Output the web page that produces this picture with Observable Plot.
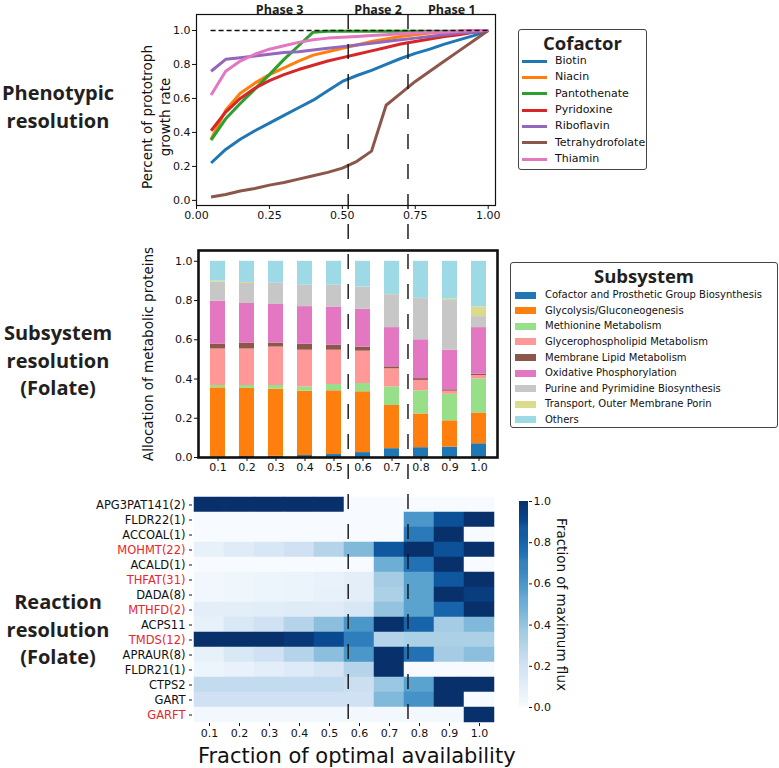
<!DOCTYPE html>
<html>
<head>
<meta charset="utf-8">
<script src="https://cdn.jsdelivr.net/npm/d3@7"></script>
<script src="https://cdn.jsdelivr.net/npm/@observablehq/plot@0.6"></script>
<style>
  body { margin: 0; background: #fff; }
  #fig { position: relative; width: 779px; height: 768px; overflow: hidden; font-family: "DejaVu Sans", sans-serif; color: #111; }
  .rowtitle { position: absolute; left: 0; width: 116px; text-align: center; font-family: "Open Sans", sans-serif; font-weight: 700; font-size: 20px; line-height: 27.5px; color: #231f20; }
  .legend { position: absolute; border: 1px solid #444; border-radius: 3px; box-sizing: border-box; background: #fff; }
  .legend .ttl { position: absolute; left: 0; right: 0; top: 0; text-align: center; font-family: "Open Sans", sans-serif; font-weight: 700; font-size: 18.5px; line-height: 26px; color: #231f20; }
  .legend .item { position: absolute; white-space: nowrap; font-family: "DejaVu Sans", sans-serif; color: #111; }
  .legend .sw { position: absolute; }
</style>
</head>
<body>
<div id="fig"></div>
<script>
// ---------- data: phenotypic resolution ----------
const availability = [0.05, 0.10, 0.15, 0.20, 0.25, 0.30, 0.35, 0.40, 0.45, 0.50,
                      0.55, 0.60, 0.65, 0.70, 0.75, 0.80, 0.85, 0.90, 0.95, 1.00];
const cofactors = ["Biotin", "Niacin", "Pantothenate", "Pyridoxine", "Riboflavin", "Tetrahydrofolate", "Thiamin"];
const cofactorColors = ["#1f77b4", "#ff7f0e", "#2ca02c", "#d62728", "#9467bd", "#8c564b", "#e377c2"];
const biotin = [0.22, 0.30, 0.36, 0.41, 0.455, 0.50, 0.545, 0.59, 0.645, 0.70, 0.735, 0.765, 0.80, 0.835, 0.865, 0.89, 0.92, 0.945, 0.97, 1.0];
const niacin = [0.36, 0.53, 0.63, 0.69, 0.74, 0.78, 0.82, 0.855, 0.875, 0.895, 0.915, 0.935, 0.95, 0.965, 0.975, 0.985, 0.99, 0.995, 1.0, 1.0];
const pantothenate = [0.355, 0.48, 0.57, 0.655, 0.74, 0.83, 0.91, 0.99, 0.995, 0.995, 0.995, 0.995, 0.995, 0.995, 0.995, 0.995, 0.995, 0.995, 0.995, 1.0];
const pyridoxine = [0.41, 0.52, 0.60, 0.66, 0.705, 0.74, 0.77, 0.795, 0.82, 0.84, 0.86, 0.88, 0.90, 0.92, 0.935, 0.95, 0.965, 0.975, 0.99, 1.0];
const riboflavin = [0.76, 0.83, 0.84, 0.85, 0.86, 0.87, 0.875, 0.885, 0.895, 0.905, 0.915, 0.925, 0.935, 0.945, 0.955, 0.965, 0.975, 0.985, 0.99, 1.0];
const tetrahydrofolate = [0.02, 0.035, 0.055, 0.07, 0.09, 0.105, 0.125, 0.145, 0.165, 0.19, 0.23, 0.29, 0.56, 0.63, 0.70, 0.76, 0.82, 0.88, 0.94, 1.0];
const thiamin = [0.62, 0.76, 0.82, 0.86, 0.89, 0.91, 0.93, 0.945, 0.955, 0.96, 0.965, 0.97, 0.975, 0.98, 0.985, 0.99, 0.99, 0.995, 1.0, 1.0];
const growthSeries = [biotin, niacin, pantothenate, pyridoxine, riboflavin, tetrahydrofolate, thiamin];
const growthTicksX = [0, 0.25, 0.5, 0.75, 1.0];
const fractionTicks = [0, 0.2, 0.4, 0.6, 0.8, 1.0];
const phaseNames = ["Phase 3", "Phase 2", "Phase 1"];
const phaseBounds = [0.52, 0.725];
const growthXDomain = [0, 1.025];

// ---------- data: subsystem resolution ----------
const barAvail = ["0.1", "0.2", "0.3", "0.4", "0.5", "0.6", "0.7", "0.8", "0.9", "1.0"];
const subsystems = ["Cofactor and Prosthetic Group Biosynthesis", "Glycolysis/Gluconeogenesis", "Methionine Metabolism",
  "Glycerophospholipid Metabolism", "Membrane Lipid Metabolism", "Oxidative Phosphorylation",
  "Purine and Pyrimidine Biosynthesis", "Transport, Outer Membrane Porin", "Others"];
const subsystemColors = ["#1f77b4", "#ff7f0e", "#98df8a", "#ff9896", "#8c564b", "#e377c2", "#c7c7c7", "#dbdb8d", "#9edae5"];
const cofactorProsthetic = [0.002, 0.005, 0.006, 0.010, 0.015, 0.025, 0.045, 0.050, 0.053, 0.070];
const glycolysis        = [0.353, 0.347, 0.342, 0.328, 0.325, 0.310, 0.220, 0.172, 0.134, 0.157];
const methionine        = [0.012, 0.015, 0.019, 0.022, 0.032, 0.042, 0.095, 0.118, 0.135, 0.173];
const glycerophospholipid = [0.186, 0.186, 0.196, 0.187, 0.175, 0.165, 0.092, 0.053, 0.016, 0.018];
const membraneLipid     = [0.024, 0.029, 0.020, 0.030, 0.025, 0.020, 0.010, 0.009, 0.007, 0.007];
const oxidative         = [0.220, 0.203, 0.197, 0.192, 0.195, 0.194, 0.200, 0.198, 0.201, 0.237];
const purine            = [0.096, 0.102, 0.107, 0.108, 0.110, 0.112, 0.168, 0.210, 0.254, 0.056];
const transport         = [0.006, 0.005, 0.001, 0.001, 0.001, 0.001, 0.001, 0.001, 0.007, 0.050];
const others            = [0.101, 0.108, 0.112, 0.122, 0.122, 0.131, 0.169, 0.189, 0.193, 0.232];
const subsystemSeries = [cofactorProsthetic, glycolysis, methionine, glycerophospholipid, membraneLipid, oxidative, purine, transport, others];

// ---------- data: reaction resolution ----------
const reactions = ["APG3PAT141(2)", "FLDR22(1)", "ACCOAL(1)", "MOHMT(22)", "ACALD(1)", "THFAT(31)", "DADA(8)",
  "MTHFD(2)", "ACPS11", "TMDS(12)", "APRAUR(8)", "FLDR21(1)", "CTPS2", "GART", "GARFT"];
const highlightedReactions = ["MOHMT(22)", "THFAT(31)", "MTHFD(2)", "TMDS(12)", "GARFT"];
const fluxAPG3PAT141 = [1, 1, 1, 1, 1, 0, 0, 0, 0, 0];
const fluxFLDR22  = [0, 0, 0, 0, 0, 0, 0, 0.6, 0.88, 1];
const fluxACCOAL  = [0, 0, 0, 0, 0, 0, 0, 0.72, 1, 0];
const fluxMOHMT   = [0.08, 0.12, 0.16, 0.2, 0.3, 0.45, 0.85, 1, 0.87, 1];
const fluxACALD   = [0, 0, 0, 0, 0, 0, 0.5, 0.75, 1, 0];
const fluxTHFAT   = [0.03, 0.04, 0.05, 0.06, 0.07, 0.1, 0.35, 0.55, 0.85, 1];
const fluxDADA    = [0.03, 0.04, 0.05, 0.06, 0.08, 0.1, 0.33, 0.55, 1, 0.95];
const fluxMTHFD   = [0.1, 0.1, 0.11, 0.12, 0.12, 0.16, 0.4, 0.55, 0.8, 1];
const fluxACPS11  = [0.08, 0.15, 0.2, 0.3, 0.42, 0.6, 1, 0.8, 0.35, 0.45];
const fluxTMDS    = [1, 1, 1, 0.97, 0.9, 0.7, 0.3, 0.33, 0.33, 0.33];
const fluxAPRAUR  = [0.08, 0.15, 0.2, 0.3, 0.42, 0.6, 1, 0.75, 0.35, 0.42];
const fluxFLDR21  = [0.05, 0.07, 0.1, 0.13, 0.17, 0.3, 1, 0, 0, 0];
const fluxCTPS2   = [0.25, 0.25, 0.25, 0.25, 0.25, 0.22, 0.38, 0.55, 1, 1];
const fluxGART    = [0.2, 0.2, 0.2, 0.2, 0.2, 0.2, 0.45, 0.62, 1, 0];
const fluxGARFT   = [0.02, 0.02, 0.02, 0.02, 0.02, 0.02, 0.02, 0.02, 0.02, 1];
const fluxRows = [fluxAPG3PAT141, fluxFLDR22, fluxACCOAL, fluxMOHMT, fluxACALD, fluxTHFAT, fluxDADA, fluxMTHFD,
  fluxACPS11, fluxTMDS, fluxAPRAUR, fluxFLDR21, fluxCTPS2, fluxGART, fluxGARFT];

// ---------- build tables ----------
const lineData = cofactors.flatMap((c, k) => availability.map((x, i) => ({cofactor: c, x, y: growthSeries[k][i]})));
const barData = barAvail.flatMap((a, i) => subsystems.map((s, k) => ({avail: a, subsystem: s, value: subsystemSeries[k][i]})));
const heatData = reactions.flatMap((r, k) => barAvail.map((a, i) => ({reaction: r, avail: a, value: fluxRows[k][i]})));
const phaseEdges = [availability[0], ...phaseBounds, growthXDomain[1]];
const phaseMid = phaseNames.map((_, i) => (phaseEdges[i] + phaseEdges[i + 1]) / 2);
const fmt1 = d3.format(".1f");
const baseStyle = {background: "transparent", overflow: "visible", fontFamily: "DejaVu Sans, sans-serif", fontSize: "11px", color: "#111"};

const fig = document.getElementById("fig");
function place(el, left, top) {
  el.style.position = "absolute";
  el.style.left = left + "px";
  el.style.top = top + "px";
  fig.appendChild(el);
  return el;
}

// ---------- row titles ----------
[["Phenotypic", "resolution"], ["Subsystem", "resolution", "(Folate)"], ["Reaction", "resolution", "(Folate)"]]
  .forEach((lines, i) => {
    const d = document.createElement("div");
    d.className = "rowtitle";
    d.innerHTML = lines.join("<br>");
    place(d, 0, [79, 319, 588][i]);
  });

const vLabel = {textAnchor: "middle", lineAnchor: "middle", fill: "#111"};

// ---------- panel 1: growth lines ----------
const topPlot = Plot.plot({
  width: 500, height: 240,
  marginLeft: 196, marginRight: 5, marginTop: 14, marginBottom: 35,
  style: baseStyle,
  x: {domain: growthXDomain, ticks: growthTicksX, tickFormat: d3.format(".2f"), tickSize: 4, tickPadding: 2, label: null},
  y: {domain: [-0.03, 1.094], ticks: fractionTicks, tickFormat: fmt1, tickSize: 4, tickPadding: 2, label: null},
  color: {domain: cofactors, range: cofactorColors},
  marks: [
    Plot.line(lineData, {x: "x", y: "y", z: "cofactor", stroke: "cofactor", strokeWidth: 3, strokeLinecap: "butt"}),
    Plot.ruleY([1], {x1: availability[0], x2: availability[availability.length - 1], stroke: "#111", strokeWidth: 1.4, strokeDasharray: "5,3"}),
    Plot.frame({stroke: "#111", strokeWidth: 1.2}),
    Plot.text(phaseNames, {x: (d, i) => phaseMid[i], text: d => d, frameAnchor: "top", dy: -5, lineAnchor: "middle",
      fontFamily: "Open Sans, sans-serif", fontWeight: 700, fontSize: 12.5, fill: "#231f20"}),
    Plot.text(["Percent of prototroph"], {...vLabel, text: d => d, frameAnchor: "left", rotate: -90, dx: -49, dy: 7, fontSize: 13.5}),
    Plot.text(["growth rate"], {...vLabel, text: d => d, frameAnchor: "left", rotate: -90, dx: -31, dy: 7, fontSize: 13.5})
  ]
});
place(topPlot, 0, 0);

// ---------- panel 2: stacked bars ----------
const midPlot = Plot.plot({
  width: 779, height: 240,
  marginLeft: 198, marginRight: 282, marginTop: 10, marginBottom: 23,
  style: baseStyle,
  x: {domain: barAvail, paddingInner: 0.5, paddingOuter: 0.25, tickSize: 4, tickPadding: 2, label: null},
  y: {domain: [0, 1.055], ticks: fractionTicks, tickFormat: fmt1, tickSize: 4, tickPadding: 2, label: null},
  color: {domain: subsystems, range: subsystemColors},
  marks: [
    Plot.barY(barData, {x: "avail", y: "value", fill: "subsystem"}),
    Plot.frame({stroke: "#111", strokeWidth: 2.6}),
    Plot.text(["Allocation of metabolic proteins"], {...vLabel, text: d => d, frameAnchor: "left", rotate: -90, dx: -50, fontSize: 13.5})
  ]
});
place(midPlot, 0, 240);

// ---------- panel 3: heatmap ----------
const hl = new Set(highlightedReactions);
const heatPlot = Plot.plot({
  width: 779, height: 288,
  marginLeft: 192, marginRight: 282.5, marginTop: 15, marginBottom: 45,
  style: baseStyle,
  x: {domain: barAvail, padding: 0, tickSize: 3, tickPadding: 3, label: null},
  y: {domain: reactions, padding: 0, tickSize: 3, tickFormat: () => "", label: null},
  color: {type: "linear", scheme: "blues", domain: [0, 1]},
  marks: [
    Plot.cell(heatData, {x: "avail", y: "reaction", fill: "value", stroke: "value", strokeWidth: 0.5, inset: 0}),
    Plot.text(reactions.filter(r => !hl.has(r)), {y: d => d, text: d => d, frameAnchor: "left", textAnchor: "end", dx: -7, fontSize: 11.5, fill: "#111"}),
    Plot.text(reactions.filter(r => hl.has(r)), {y: d => d, text: d => d, frameAnchor: "left", textAnchor: "end", dx: -7, fontSize: 11.5, fill: "#e8262c"}),
    Plot.text(["Fraction of optimal availability"], {text: d => d, frameAnchor: "bottom", lineAnchor: "middle", textAnchor: "middle", dy: 33, dx: 12, fontSize: 21, fill: "#111"})
  ]
});
place(heatPlot, 0, 480);

// ---------- colorbar ----------
const cbSteps = d3.range(0, 200).map(i => i / 200);
const cbPlot = Plot.plot({
  width: 100, height: 288,
  marginLeft: 19, marginRight: 72, marginTop: 21, marginBottom: 61,
  style: baseStyle,
  x: {domain: [0, 1], axis: null},
  y: {domain: [0, 1], axis: "right", ticks: fractionTicks, tickFormat: fmt1, tickSize: 3, tickPadding: 2, label: null},
  color: {type: "linear", scheme: "blues", domain: [0, 1]},
  marks: [
    Plot.rect(cbSteps, {x1: 0, x2: 1, y1: d => d, y2: d => Math.min(1, d + 0.008), fill: d => d + 0.0025}),
    Plot.text(["Fraction of maximum flux"], {...vLabel, text: d => d, frameAnchor: "right", rotate: 90, dx: 33, fontSize: 13.5})
  ]
});
place(cbPlot, 500, 480);

// ---------- legends ----------
function makeLegend({left, top, width, height, title, names, colors, firstY, stepY, swatch, textLeft, fontSize}) {
  const box = document.createElement("div");
  box.className = "legend";
  Object.assign(box.style, {width: width + "px", height: height + "px"});
  const t = document.createElement("div");
  t.className = "ttl";
  t.textContent = title;
  box.appendChild(t);
  names.forEach((n, i) => {
    const cy = firstY + i * stepY;
    const sw = document.createElement("div");
    sw.className = "sw";
    Object.assign(sw.style, {left: swatch.left + "px", width: swatch.w + "px", height: swatch.h + "px",
      top: (cy - swatch.h / 2) + "px", background: colors[i]});
    box.appendChild(sw);
    const it = document.createElement("div");
    it.className = "item";
    it.textContent = n;
    Object.assign(it.style, {left: textLeft + "px", top: (cy - 8) + "px", lineHeight: "16px", fontSize: fontSize + "px"});
    box.appendChild(it);
  });
  place(box, left, top);
}
makeLegend({left: 518, top: 29, width: 129, height: 141, title: "Cofactor", names: cofactors, colors: cofactorColors,
  firstY: 31, stepY: 16.35, swatch: {left: 3, w: 25, h: 3}, textLeft: 36, fontSize: 11});
makeLegend({left: 510, top: 262, width: 268, height: 166, title: "Subsystem", names: subsystems, colors: subsystemColors,
  firstY: 32.3, stepY: 15.55, swatch: {left: 4, w: 21, h: 7}, textLeft: 34, fontSize: 10});

// ---------- phase boundary dashed lines across all panels ----------
const overlay = Plot.plot({
  width: 779, height: 768,
  marginLeft: 196, marginRight: 284, marginTop: 14, marginBottom: 40,
  style: {background: "transparent", overflow: "visible", pointerEvents: "none"},
  x: {domain: growthXDomain, axis: null},
  marks: [
    Plot.ruleX(phaseBounds, {stroke: "#111", strokeWidth: 1.4, strokeDasharray: "15,15"})
  ]
});
place(overlay, 0, 0);
</script>
</body>
</html>
